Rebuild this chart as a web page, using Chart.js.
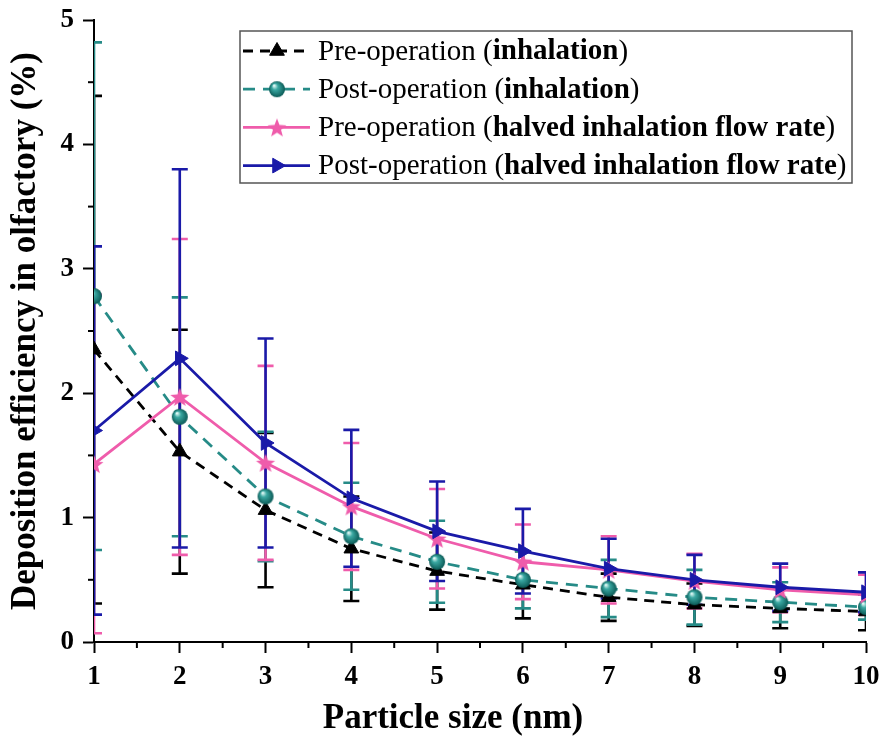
<!DOCTYPE html>
<html>
<head>
<meta charset="utf-8">
<script src="https://cdn.jsdelivr.net/npm/chart.js@4.4.1/dist/chart.umd.min.js"></script>
<style>
  html, body { margin: 0; padding: 0; background: #fff; }
  #wrap { width: 883px; height: 746px; position: relative; }
</style>
</head>
<body>
<div id="wrap"><canvas id="chart"></canvas></div>
<script>
(function () {
    "use strict";

    // Data
    const sizes = [1, 2, 3, 4, 5, 6, 7, 8, 9, 10];

    const preInh = [2.35, 1.53, 1.06, 0.75, 0.57, 0.46, 0.36, 0.30, 0.27, 0.245];
    const preInhErr = [2.04, 0.98, 0.62, 0.42, 0.31, 0.27, 0.19, 0.17, 0.16, 0.15];

    const postInh = [2.78, 1.81, 1.17, 0.85, 0.645, 0.50, 0.43, 0.36, 0.32, 0.28];
    const postInhErr = [2.04, 0.96, 0.52, 0.43, 0.33, 0.23, 0.23, 0.22, 0.16, 0.10];

    const preHalf = [1.43, 1.97, 1.44, 1.09, 0.83, 0.645, 0.58, 0.49, 0.42, 0.38];
    const preHalfErr = [1.36, 1.27, 0.78, 0.51, 0.40, 0.30, 0.27, 0.22, 0.18, 0.16];

    const postHalf = [1.70, 2.28, 1.60, 1.155, 0.89, 0.73, 0.59, 0.50, 0.44, 0.40];
    const postHalfErr = [1.48, 1.52, 0.84, 0.55, 0.40, 0.34, 0.24, 0.20, 0.19, 0.16];

    const legendNames = ["Pre-operation", "Post-operation", "Pre-operation", "Post-operation"];
    const legendBold = ["inhalation", "inhalation", "halved inhalation flow rate", "halved inhalation flow rate"];
    const xTitle = "Particle size (nm)";
    const yTitle = "Deposition efficiency in olfactory (%)";

    const SERIF = '"Liberation Serif", "Times New Roman", serif';
    Chart.defaults.font.family = SERIF;
    Chart.defaults.color = "#000";

    const BLACK = "#000000";
    const TEAL = "#268b87";
    const PINK = "#ef5cab";
    const BLUE = "#1a1aa8";

    // custom markers
    function makeSphere(r) {
        const c = document.createElement("canvas");
        c.width = c.height = r * 2 + 2;
        const g = c.getContext("2d");
        const grad = g.createRadialGradient(r * 0.75, r * 0.65, 0.5, r + 1, r + 1, r);
        grad.addColorStop(0, "#e6fbf8");
        grad.addColorStop(0.35, "#3aa8a2");
        grad.addColorStop(1, "#0b5a56");
        g.fillStyle = grad;
        g.beginPath();
        g.arc(r + 1, r + 1, r, 0, Math.PI * 2);
        g.fill();
        return c;
    }

    function makeStar(r, color) {
        const c = document.createElement("canvas");
        c.width = c.height = r * 2 + 2;
        const g = c.getContext("2d");
        g.fillStyle = color;
        g.beginPath();
        for (let k = 0; k < 10; k++) {
            const rad = k % 2 === 0 ? r : r * 0.42;
            const a = -Math.PI / 2 + k * Math.PI / 5;
            const px = r + 1 + rad * Math.cos(a);
            const py = r + 1 + rad * Math.sin(a) + r * 0.1;
            if (k === 0) g.moveTo(px, py); else g.lineTo(px, py);
        }
        g.closePath();
        g.fill();
        return c;
    }

    const sphere = makeSphere(8);
    const star = makeStar(10, PINK);

    function pts(vals) {
        return vals.map((v, i) => ({ x: sizes[i], y: v }));
    }

    const datasets = [
        {
            label: "Pre-operation (inhalation)",
            data: pts(preInh), errors: preInhErr,
            borderColor: BLACK, backgroundColor: BLACK,
            borderDash: [10, 7], pointStyle: "triangle", pointRadius: 8.5,
            pointRotation: 0, order: 3,
        },
        {
            label: "Post-operation (inhalation)",
            data: pts(postInh), errors: postInhErr,
            borderColor: TEAL, backgroundColor: TEAL,
            borderDash: [12, 8], pointStyle: sphere, pointRadius: 8,
            pointRotation: 0, order: 2,
        },
        {
            label: "Pre-operation (halved inhalation flow rate)",
            data: pts(preHalf), errors: preHalfErr,
            borderColor: PINK, backgroundColor: PINK,
            borderDash: [], pointStyle: star, pointRadius: 10,
            pointRotation: 0, order: 1,
        },
        {
            label: "Post-operation (halved inhalation flow rate)",
            data: pts(postHalf), errors: postHalfErr,
            borderColor: BLUE, backgroundColor: BLUE,
            borderDash: [], pointStyle: "triangle", pointRadius: 8.5,
            pointRotation: 90, order: 0,
        },
    ];
    datasets.forEach((d) => {
        d.borderWidth = 2.8;
        d.pointBorderWidth = 1;
        d.pointBorderColor = d.borderColor;
        d.pointBackgroundColor = d.backgroundColor;
        d.tension = 0;
        d.clip = 0;
    });

    // Error bars
    const errorBars = {
        id: "errorBars",
        beforeDatasetsDraw(chart) {
            const { ctx, chartArea, scales: { x, y } } = chart;
            ctx.save();
            ctx.beginPath();
            ctx.rect(chartArea.left, chartArea.top, chartArea.width, chartArea.height);
            ctx.clip();
            ctx.setLineDash([]);
            ctx.lineWidth = 2.6;
            chart.data.datasets.forEach((ds) => {
                ctx.strokeStyle = ds.borderColor;
                ds.data.forEach((p, i) => {
                    const e = ds.errors[i];
                    const px = x.getPixelForValue(p.x);
                    const t = y.getPixelForValue(p.y + e);
                    const b = y.getPixelForValue(p.y - e);
                    ctx.beginPath();
                    ctx.moveTo(px, t);
                    ctx.lineTo(px, b);
                    ctx.moveTo(px - 8, t);
                    ctx.lineTo(px + 8, t);
                    ctx.moveTo(px - 8, b);
                    ctx.lineTo(px + 8, b);
                    ctx.stroke();
                });
            });
            ctx.restore();
        },
    };

    // minor ticks (half steps) + x axis title
    const axisExtras = {
        id: "axisExtras",
        afterDraw(chart) {
            const { ctx, chartArea, scales: { x, y } } = chart;
            ctx.save();
            ctx.strokeStyle = "#000";
            ctx.lineWidth = 2;
            x.ticks.forEach((t) => {
                if (Number.isInteger(t.value)) return;
                const px = x.getPixelForValue(t.value);
                ctx.beginPath();
                ctx.moveTo(px, chartArea.bottom);
                ctx.lineTo(px, chartArea.bottom + 6);
                ctx.stroke();
            });
            y.ticks.forEach((t) => {
                if (Number.isInteger(t.value)) return;
                const py = y.getPixelForValue(t.value);
                ctx.beginPath();
                ctx.moveTo(chartArea.left, py);
                ctx.lineTo(chartArea.left - 6, py);
                ctx.stroke();
            });
            ctx.fillStyle = "#000";
            ctx.font = "bold 35px " + SERIF;
            ctx.textAlign = "center";
            ctx.textBaseline = "middle";
            ctx.fillText(xTitle, 453, 719);
            ctx.restore();
        },
    };

    // legend with normal + bold text
    const boxLegend = {
        id: "boxLegend",
        afterDraw(chart) {
            const ctx = chart.ctx;
            const x0 = 240, y0 = 31, x1 = 852, y1 = 183;
            ctx.save();
            ctx.strokeStyle = "#555";
            ctx.lineWidth = 1.5;
            ctx.strokeRect(x0, y0, x1 - x0, y1 - y0);
            ctx.textBaseline = "middle";
            ctx.textAlign = "left";
            chart.data.datasets.forEach((ds, i) => {
                const cy = 51 + i * 38.2;
                ctx.strokeStyle = ds.borderColor;
                ctx.fillStyle = ds.backgroundColor;
                ctx.lineWidth = 2.8;
                ctx.setLineDash(ds.borderDash);
                ctx.beginPath();
                ctx.moveTo(243, cy);
                ctx.lineTo(310, cy);
                ctx.stroke();
                ctx.setLineDash([]);
                ctx.lineWidth = 1;
                Chart.helpers.drawPoint(ctx, {
                    pointStyle: ds.pointStyle,
                    radius: ds.pointRadius,
                    rotation: ds.pointRotation,
                    borderWidth: 1,
                }, 277, cy);

                ctx.fillStyle = "#000";
                let tx = 318;
                const parts = [
                    ["normal", legendNames[i] + " ("],
                    ["bold", legendBold[i]],
                    ["normal", ")"],
                ];
                parts.forEach(([w, s]) => {
                    ctx.font = w + " 29px " + SERIF;
                    ctx.fillText(s, tx, cy + 1);
                    tx += ctx.measureText(s).width;
                });
            });
            ctx.restore();
        },
    };

    const tickFont = { size: 27, weight: "bold" };

    new Chart(document.getElementById("chart"), {
        type: "line",
        data: { datasets: datasets },
        plugins: [errorBars, axisExtras, boxLegend],
        options: {
            responsive: true,
            maintainAspectRatio: false,
            animation: false,
            devicePixelRatio: 1,
            layout: { padding: { top: 20, right: 17, left: 0, bottom: 0 } },
            plugins: {
                legend: { display: false },
                tooltip: { enabled: false },
            },
            scales: {
                x: {
                    type: "linear",
                    min: 1, max: 10,
                    afterFit: (s) => {
                        s.height = 104;
                        s.paddingLeft = 0;
                        s.paddingRight = 0;
                    },
                    border: { display: true, color: "#000", width: 2 },
                    grid: {
                        drawOnChartArea: false,
                        tickLength: 11,
                        tickWidth: 2,
                        tickColor: (c) => Number.isInteger(c.tick.value) ? "#000" : "rgba(0,0,0,0)",
                    },
                    ticks: {
                        stepSize: 0.5,
                        padding: 8,
                        maxRotation: 0,
                        autoSkip: false,
                        font: tickFont,
                        callback: (v) => Number.isInteger(v) ? String(v) : "",
                    },
                },
                y: {
                    min: 0, max: 5,
                    afterFit: (s) => {
                        s.width = 94;
                        s.paddingTop = 0;
                        s.paddingBottom = 0;
                    },
                    border: { display: true, color: "#000", width: 2 },
                    grid: {
                        drawOnChartArea: false,
                        tickLength: 11,
                        tickWidth: 2,
                        tickColor: (c) => Number.isInteger(c.tick.value) ? "#000" : "rgba(0,0,0,0)",
                    },
                    ticks: {
                        stepSize: 0.5,
                        padding: 9,
                        autoSkip: false,
                        font: tickFont,
                        callback: (v) => Number.isInteger(v) ? String(v) : "",
                    },
                    title: {
                        display: true,
                        text: yTitle,
                        font: { size: 35, weight: "bold" },
                        padding: { top: 5, bottom: 0 },
                    },
                },
            },
        },
    });
})();
</script>
</body>
</html>
